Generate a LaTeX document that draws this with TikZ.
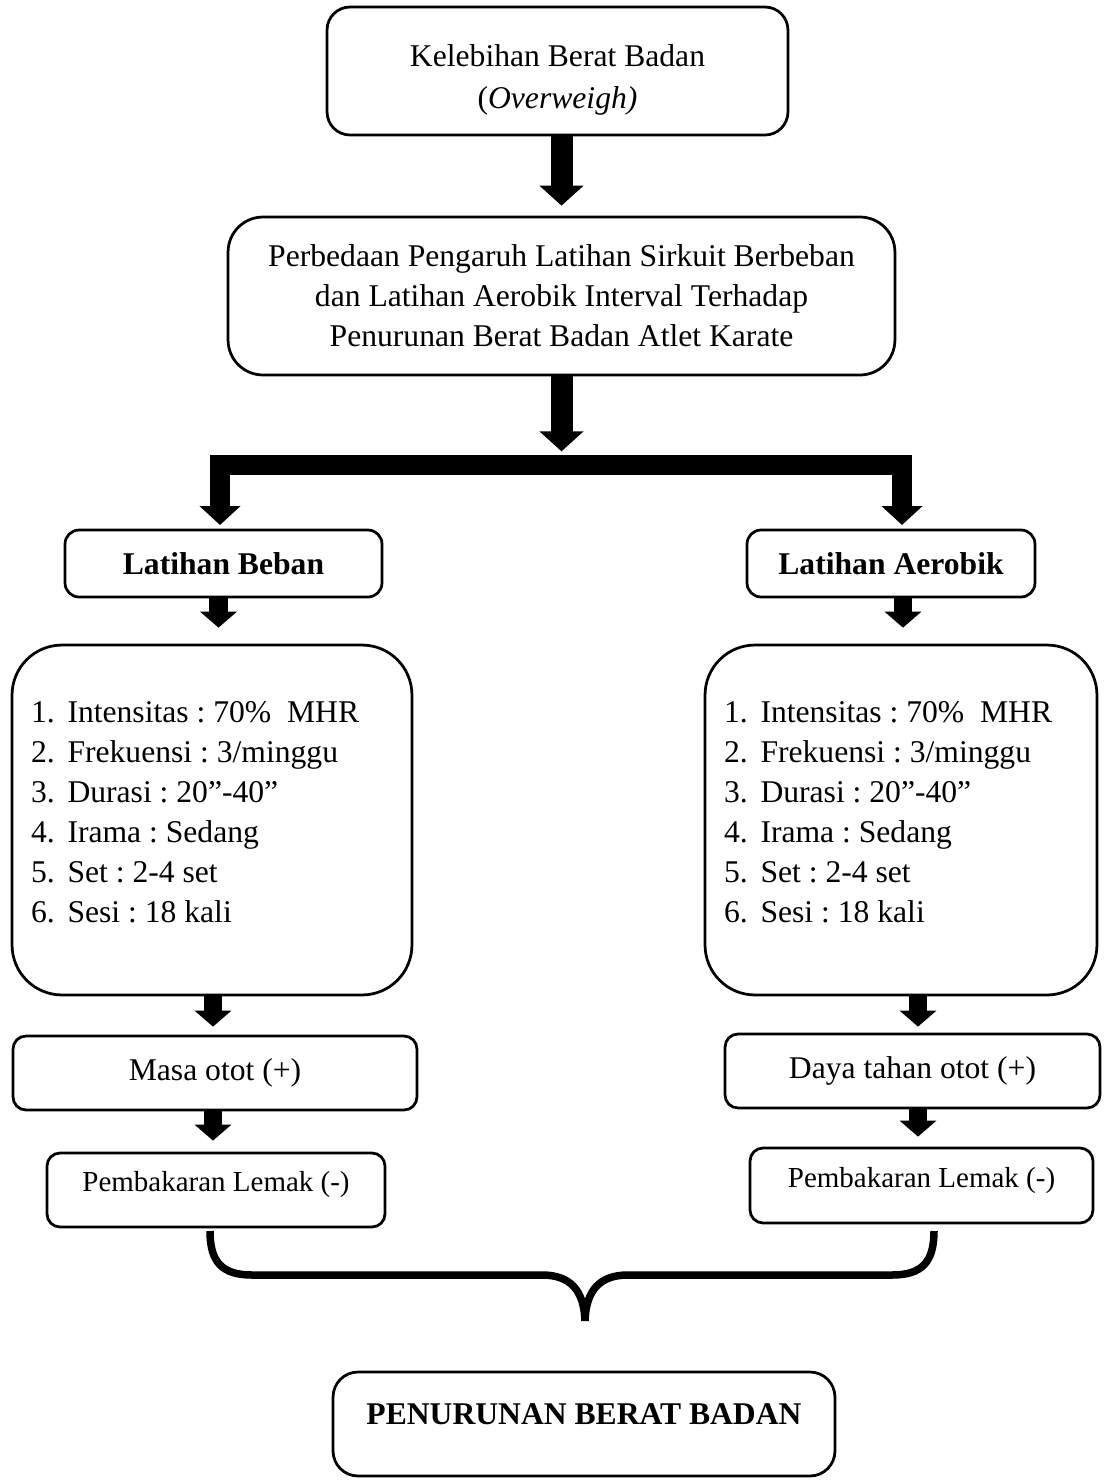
\documentclass[tikz,border=0pt]{standalone}
\usepackage{fontspec}
\setmainfont{Liberation Serif}
\usetikzlibrary{arrows.meta,calc}
\frenchspacing
\newcommand{\fsA}{\fontsize{18pt}{22.76pt}\selectfont}
\newcommand{\fsB}{\fontsize{18pt}{23.9pt}\selectfont}
\newcommand{\fsC}{\fontsize{16.5pt}{20pt}\selectfont}
\newcommand{\itm}[1]{\makebox[0.73cm][l]{#1}}
\newcommand{\lift}[2]{\raisebox{#1}[\height][\depth]{#2}}
\newcommand{\plist}[1]{\lift{0.16cm}{\parbox{#1}{\fsA\frenchspacing\raggedright
  \itm{1.}Intensitas : 70\%~ MHR\\\itm{2.}Frekuensi : 3/minggu\\\itm{3.}Durasi : 20”-40”\\\itm{4.}Irama : Sedang\\\itm{5.}Set : 2-4 set\\\itm{6.}Sesi : 18 kali}}}
\tikzset{
  box/.style={draw, line width=0.055cm, align=center, inner sep=0pt, font=\fsA},
  bigarrow/.style={line width=0.44cm, -{Triangle[width=0.86cm,length=0.4cm]}},
  bararrow/.style={line width=0.4cm, line join=miter, {Triangle[width=0.8cm,length=0.38cm]}-{Triangle[width=0.8cm,length=0.38cm]}},
  smallarrow/.style={line width=0.37cm, -{Triangle[width=0.72cm,length=0.32cm]}},
  bracestyle/.style={line width=0.15cm, line cap=butt},
}
\begin{document}
\begin{tikzpicture}[x=0.02cm, y=-0.02cm]
\useasboundingbox (0,0) rectangle (1109,1481);

\node[box, font=\fsB, rounded corners=0.46cm, minimum width=9.22cm, minimum height=2.56cm] (box1) at (557.5,71)
  {\lift{-0.16cm}{\begin{tabular}{@{}c@{}}Kelebihan Berat Badan\\(\textit{Overweigh)}\end{tabular}}};
\node[box, rounded corners=0.7cm, minimum width=13.34cm, minimum height=3.16cm] (box2) at (561.5,296)
  {Perbedaan Pengaruh Latihan Sirkuit Berbeban\\dan Latihan Aerobik Interval Terhadap\\Penurunan Berat Badan Atlet Karate};

\node[box, rounded corners=0.28cm, minimum width=6.34cm, minimum height=1.34cm] (latB) at (223.5,563.5)
  {\textbf{Latihan Beban}};
\node[box, rounded corners=0.28cm, minimum width=5.76cm, minimum height=1.34cm] (latA) at (891,563.5)
  {\textbf{Latihan Aerobik}};

\node[box, rounded corners=1.0cm, minimum width=8.0cm, minimum height=7.0cm] (listL) at (212,820)
  {\plist{7.24cm}};
\node[box, rounded corners=1.0cm, minimum width=7.84cm, minimum height=7.0cm] (listR) at (901,820)
  {\plist{7.08cm}};

\node[box, rounded corners=0.26cm, minimum width=8.08cm, minimum height=1.48cm] (masa) at (215,1073)
  {Masa otot (+)};
\node[box, rounded corners=0.26cm, minimum width=7.5cm, minimum height=1.48cm] (daya) at (912.5,1071)
  {Daya tahan otot (+)};

\node[box, font=\fsC, rounded corners=0.26cm, minimum width=6.76cm, minimum height=1.48cm] (pembL) at (216,1190)
  {\lift{0.1cm}{Pembakaran Lemak (-)}};
\node[box, font=\fsC, rounded corners=0.26cm, minimum width=6.86cm, minimum height=1.5cm] (pembR) at (921.5,1185.5)
  {\lift{0.1cm}{Pembakaran Lemak (-)}};

\node[box, rounded corners=0.5cm, minimum width=10.04cm, minimum height=2.08cm] (hasil) at (584,1424)
  {\lift{0.2cm}{\textbf{PENURUNAN BERAT BADAN}}};

% arrows
\draw[bigarrow, shorten >=0.2cm] (box1.south -| box2.north) -- (box2.north);
\coordinate (split) at ($(box2.south)+(0,75)$);
\draw[bigarrow] (box2.south) -- (split);
\coordinate (bl) at (220,525);
\coordinate (br) at (902,525);
\coordinate (barY) at (0,465);
\draw[bararrow] (bl) -- (bl |- barY) -- (br |- barY) -- (br);

\coordinate (s1) at ($(latB.south)+(-5,0)$);
\draw[smallarrow, shorten >=0.32cm] (s1) -- (s1 |- listL.north);
\coordinate (s2) at ($(latA.south)+(12,0)$);
\draw[smallarrow, shorten >=0.32cm] (s2) -- (s2 |- listR.north);
\coordinate (s3) at ($(listL.south)+(1,0)$);
\draw[smallarrow, shorten >=0.16cm] (s3) -- (s3 |- masa.north);
\coordinate (s4) at ($(listR.south)+(17,0)$);
\draw[smallarrow, shorten >=0.12cm] (s4) -- (s4 |- daya.north);
\coordinate (s5) at ($(masa.south)+(-2,0)$);
\draw[smallarrow, shorten >=0.22cm] (s5) -- (s5 |- pembL.north);
\coordinate (s6) at ($(daya.south)+(5.5,0)$);
\draw[smallarrow, shorten >=0.2cm] (s6) -- (s6 |- pembR.north);

% brace
\coordinate (brL) at (210,1231);
\coordinate (brR) at (934,1231);
\coordinate (brM) at (585,1321);
\draw[bracestyle] (brL) .. controls (210,1262) and (222,1275) .. (252,1275)
  -- (542,1275) .. controls (570,1275) and (584,1290) .. (brM);
\draw[bracestyle] (brR) .. controls (934,1262) and (922,1275) .. (892,1275)
  -- (628,1275) .. controls (600,1275) and (586,1290) .. (brM);
\end{tikzpicture}
\end{document}
